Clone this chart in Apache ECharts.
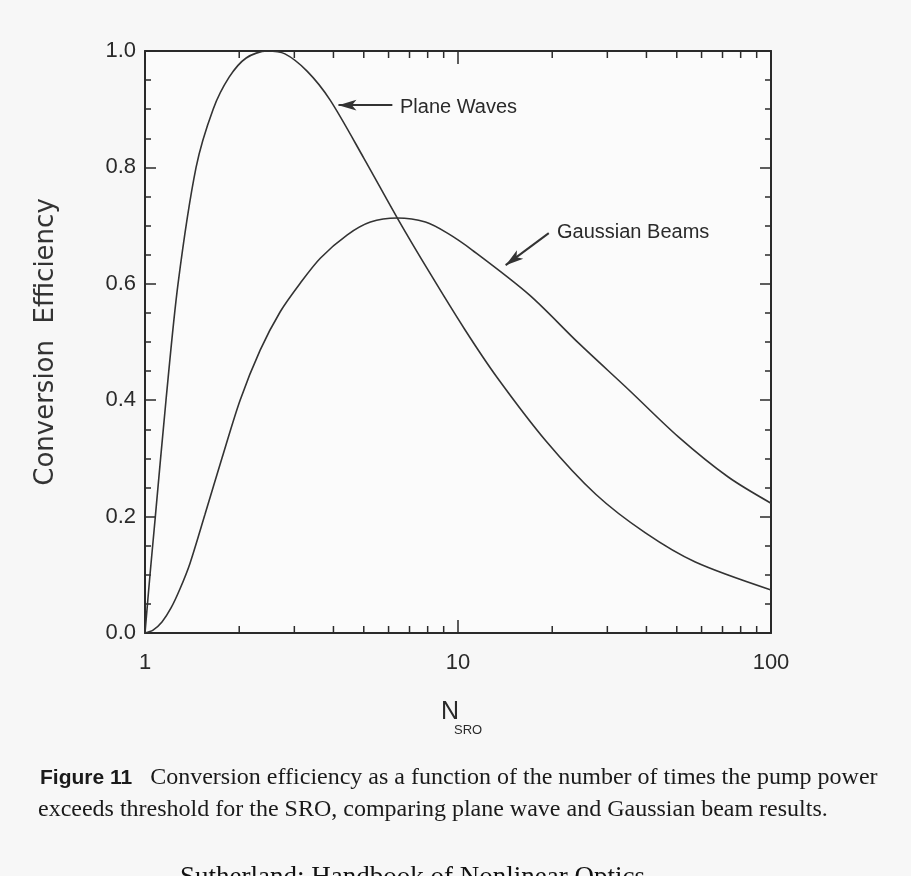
<!DOCTYPE html>
<html><head><meta charset="utf-8">
<script src="https://cdn.jsdelivr.net/npm/echarts@6/dist/echarts.min.js"></script>
<style>html,body{margin:0;padding:0;background:#f7f7f7}#c{width:911px;height:876px}</style>
</head><body><div id="c"></div>
<script>
// ---- data ----
const planeN   = [1, 1.0375, 1.079, 1.167, 1.275, 1.456, 1.651, 1.857, 2.105, 2.457, 2.8, 3.3, 3.9, 5.0, 6.4, 8.1, 10.5, 13.3, 19.1, 27.6, 39.7, 57.3, 100];
const planeEff = [0, 0.1, 0.2, 0.4, 0.6, 0.8, 0.9, 0.955, 0.988, 1.0, 0.995, 0.965, 0.916, 0.816, 0.713, 0.62, 0.522, 0.44, 0.33, 0.238, 0.172, 0.122, 0.074];
const gaussN   = [1, 1.061, 1.133, 1.211, 1.294, 1.393, 1.555, 1.763, 2.013, 2.333, 2.704, 3.133, 3.631, 4.43, 5.25, 6.4, 7.87, 9.25, 11.1, 16.9, 24.3, 35.1, 50.6, 73, 100];
const gaussEff = [0, 0.005, 0.019, 0.043, 0.076, 0.12, 0.204, 0.301, 0.40, 0.486, 0.552, 0.601, 0.644, 0.684, 0.706, 0.713, 0.706, 0.687, 0.658, 0.581, 0.498, 0.418, 0.337, 0.268, 0.223];
const xMinorTicks = [2, 3, 4, 5, 6, 7, 8, 9, 20, 30, 40, 50, 60, 70, 80, 90];
const planeArrow = [[6.17, 0.907], [4.15, 0.907]];
const gaussArrow = [[19.5, 0.687], [14.2, 0.632]];
const yAxisTitle = 'Conversion  Efficiency';
const xAxisTitle = 'N';
const xAxisSub = 'SRO';
const planeLabel = 'Plane Waves';
const gaussLabel = 'Gaussian Beams';
const captionBold = 'Figure 11';
const captionLine1 = 'Conversion efficiency as a function of the number of times the pump power';
const captionLine2 = 'exceeds threshold for the SRO, comparing plane wave and Gaussian beam results.';
const sourceLine = 'Sutherland: Handbook of Nonlinear Optics';

const ink = '#2a2a2a';
const sans = "'Liberation Sans', Arial, sans-serif";
const serif = "'Liberation Serif', 'Times New Roman', serif";

const chart = echarts.init(document.getElementById('c'), null, {renderer: 'canvas'});

const zip = (a, b) => a.map((v, i) => [v, b[i]]);

const xBase = {
  type: 'log', logBase: 10, min: 1, max: 100,
  axisLine: {show: true, onZero: false, lineStyle: {color: ink, width: 2}},
  axisTick: {show: true, inside: true, length: 13, lineStyle: {color: ink, width: 1.5}},
  splitLine: {show: false},
  minorTick: {show: false}
};
const yBase = {
  type: 'value', min: 0, max: 1, interval: 0.2,
  axisLine: {show: true, onZero: false, lineStyle: {color: ink, width: 2}},
  axisTick: {show: true, inside: true, length: 11, lineStyle: {color: ink, width: 1.5}},
  minorTick: {show: true, splitNumber: 4, length: 6, lineStyle: {color: ink, width: 1.5}},
  splitLine: {show: false}
};

chart.setOption({
  backgroundColor: '#f7f7f7',
  animation: false,
  grid: {left: 145, right: 140, top: 51, bottom: 243, show: true, backgroundColor: '#fbfbfb', borderWidth: 0},
  xAxis: [
    Object.assign({}, xBase, {position: 'bottom',
      axisLabel: {show: true, fontFamily: sans, fontSize: 22, color: ink, margin: 19}}),
    Object.assign({}, xBase, {position: 'top', axisLabel: {show: false}})
  ],
  yAxis: [
    Object.assign({}, yBase, {position: 'left',
      axisLabel: {show: true, fontFamily: sans, fontSize: 22, color: ink, margin: 9,
        formatter: v => v.toFixed(1)},
      name: yAxisTitle, nameLocation: 'middle', nameGap: 86,
      nameTextStyle: {fontFamily: "'DejaVu Sans', sans-serif", fontSize: 26, color: '#333'}}),
    Object.assign({}, yBase, {position: 'right', axisLabel: {show: false}})
  ],
  series: [
    {
      type: 'line', name: planeLabel, xAxisIndex: 0, yAxisIndex: 0,
      data: zip(planeN, planeEff), smooth: 0.3, showSymbol: false,
      lineStyle: {color: '#333', width: 1.6},
      markLine: {
        silent: true, symbol: ['none', 'arrow'], symbolSize: [8, 18],
        label: {show: false},
        lineStyle: {type: 'solid', color: '#333', width: 2},
        data: [[{coord: planeArrow[0]}, {coord: planeArrow[1]}]]
      }
    },
    {
      type: 'line', name: gaussLabel, xAxisIndex: 0, yAxisIndex: 0,
      data: zip(gaussN, gaussEff), smooth: 0.3, showSymbol: false,
      lineStyle: {color: '#333', width: 1.6},
      markLine: {
        silent: true, symbol: ['none', 'arrow'], symbolSize: [8, 18],
        label: {show: false},
        lineStyle: {type: 'solid', color: '#333', width: 2},
        data: [[{coord: gaussArrow[0]}, {coord: gaussArrow[1]}]]
      }
    },
    {
      type: 'custom', xAxisIndex: 0, yAxisIndex: 0, silent: true, clip: false,
      data: xMinorTicks.map(v => [v, 0]),
      renderItem: (params, api) => {
        const b = api.coord([api.value(0), 0]);
        const t = api.coord([api.value(0), 1]);
        return {type: 'group', children: [
          {type: 'line', shape: {x1: b[0], y1: b[1], x2: b[0], y2: b[1] - 7}, style: {stroke: ink, lineWidth: 1.5}},
          {type: 'line', shape: {x1: t[0], y1: t[1], x2: t[0], y2: t[1] + 7}, style: {stroke: ink, lineWidth: 1.5}}
        ]};
      }
    }
  ],
  graphic: [
    {type: 'text', x: 400, y: 107, style: {text: planeLabel, font: `20px ${sans}`, fill: ink, verticalAlign: 'middle'}},
    {type: 'text', x: 557, y: 232, style: {text: gaussLabel, font: `20px ${sans}`, fill: ink, verticalAlign: 'middle'}},
    {type: 'text', x: 441, y: 712, style: {text: xAxisTitle, font: `25px ${sans}`, fill: ink, verticalAlign: 'middle'}},
    {type: 'text', x: 454, y: 730, style: {text: xAxisSub, font: `13px ${sans}`, fill: ink, verticalAlign: 'middle'}},
    {type: 'text', x: 40, y: 778, style: {
      text: `{b|${captionBold}}   ${captionLine1}`,
      font: `24px ${serif}`, fill: '#1a1a1a', verticalAlign: 'middle',
      rich: {b: {fontFamily: sans, fontWeight: 'bold', fontSize: 21, fill: '#1a1a1a'}}
    }},
    {type: 'text', x: 38, y: 810, style: {text: captionLine2, font: `24px ${serif}`, fill: '#1a1a1a', verticalAlign: 'middle'}},
    {type: 'text', x: 180, y: 864, style: {text: sourceLine, font: `27px ${serif}`, fill: '#111', verticalAlign: 'top'}}
  ]
});
</script>
</body></html>
